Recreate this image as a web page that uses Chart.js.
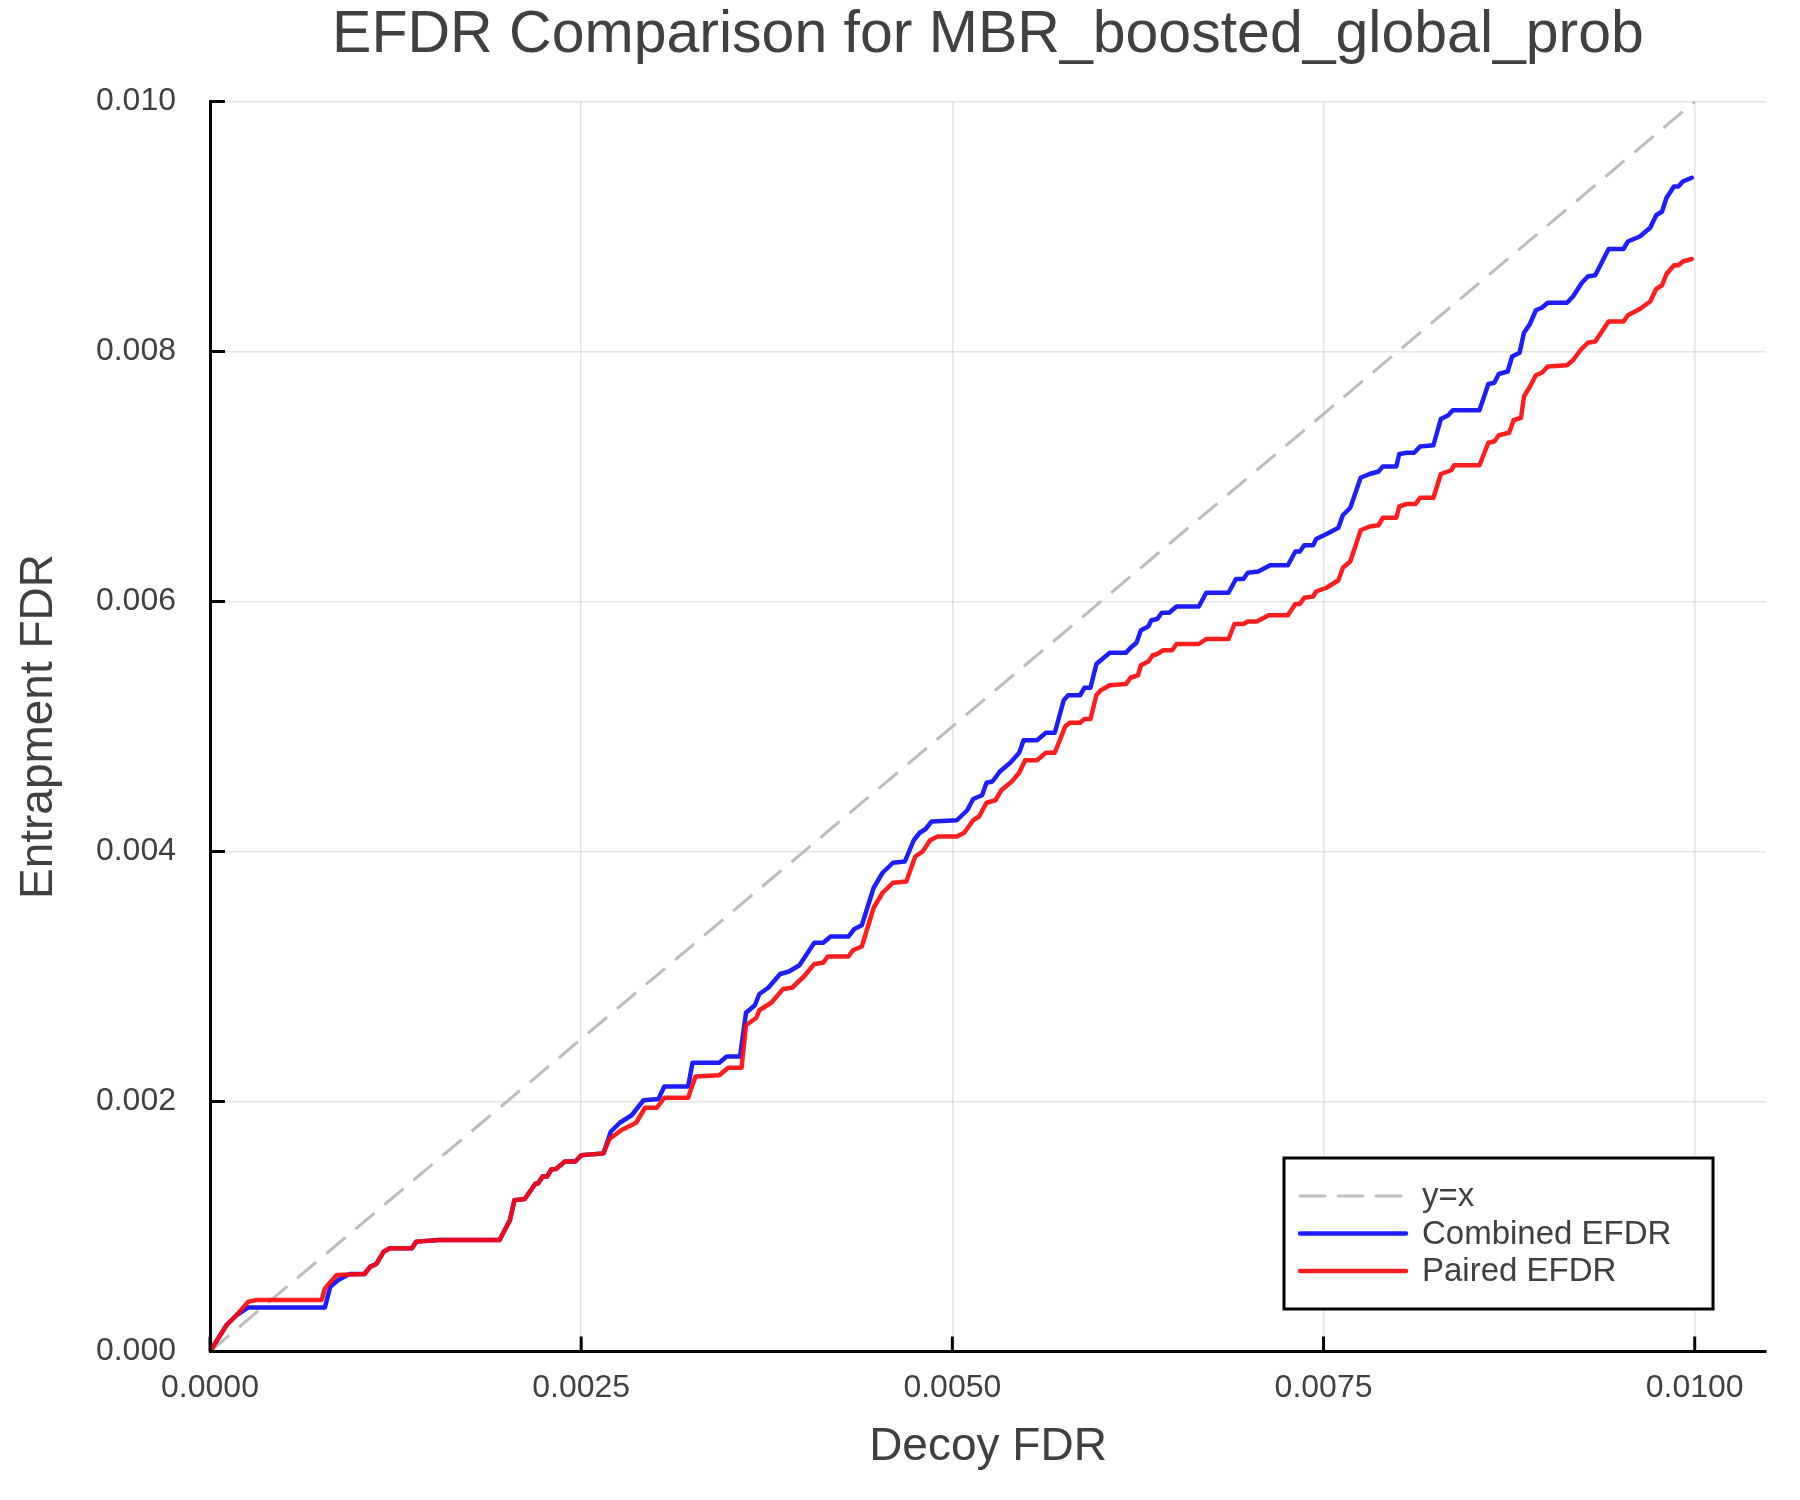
<!DOCTYPE html>
<html>
<head>
<meta charset="utf-8">
<script src="https://cdn.jsdelivr.net/npm/chart.js@4"></script>
<style>
  html, body { margin: 0; padding: 0; background: #ffffff; }
  #wrap { width: 1800px; height: 1500px; }
</style>
</head>
<body>
<div id="wrap"><canvas id="c" width="1800" height="1500"></canvas></div>
<script>
// ---------------- data ----------------
const chartTitle = "EFDR Comparison for MBR_boosted_global_prob";
const xAxisTitle = "Decoy FDR";
const yAxisTitle = "Entrapment FDR";

const xTicks = [0, 0.0025, 0.005, 0.0075, 0.01];
const xTickLabels = ["0.0000", "0.0025", "0.0050", "0.0075", "0.0100"];
const yTicks = [0, 0.002, 0.004, 0.006, 0.008, 0.01];
const yTickLabels = ["0.000", "0.002", "0.004", "0.006", "0.008", "0.010"];
const xMin = 0, xMax = 0.01048, yMin = 0, yMax = 0.01;

const refLabel = "y=x";
const refX = [0, 0.01];
const refY = [0, 0.01];

const combinedLabel = "Combined EFDR";
const combinedX = [0,0.000112,0.00018,0.000258,0.000774,0.00081,0.000864,0.00094,0.00104,0.00108,0.00112,0.00117,0.00121,0.00136,0.00139,0.00154,0.00195,0.00202,0.00205,0.00212,0.00219,0.00221,0.00224,0.00227,0.0023,0.00233,0.00239,0.00246,0.0025,0.00265,
0.0027,0.00276,0.00284,0.00292,0.00302,0.00306,0.00322,0.00325,0.00343,0.00348,0.00357,0.00361,0.00367,0.0037,0.00376,0.00384,0.0039,0.00397,0.00407,0.00413,0.00418,0.0043,0.00434,0.00439,0.00447,0.00453,0.0046,0.00468,0.00474,0.00478,0.00482,0.00486,0.00503,
0.0051,0.00514,0.0052,0.00523,0.00527,0.00532,0.00539,0.00545,0.00548,0.00557,0.00563,0.00569,0.00575,0.00578,0.00586,0.00589,0.00593,0.00597,0.006,0.00606,0.00617,0.0062,0.00624,0.00627,0.00632,0.00634,0.00638,0.00641,0.00646,0.00651,0.00666,0.00671,0.00686,0.00691,0.00696,0.00699,0.00706,0.00714,0.00726,
0.00731,0.00734,0.00737,0.00743,0.00745,0.00752,0.0076,0.00763,0.00768,0.00775,0.00781,0.00787,0.0079,0.00799,0.00801,0.00806,0.00811,0.00815,0.00824,0.00829,0.00834,0.00837,0.00855,0.00861,0.00865,0.00868,0.00874,0.00877,0.00882,0.00885,0.00889,0.00893,0.00897,0.00901,0.00914,0.00918,0.00924,0.00928,0.00933,0.00942,0.00952,0.00955,0.00963,0.0097,0.00974,0.00978,0.00981,0.00986,0.00989,0.00992,0.00998];
const combinedY = [0,0.000212,0.000292,0.000353,0.000353,0.000518,0.000572,0.00062,0.00062,0.000679,0.0007,0.000799,0.000826,0.000826,0.000879,0.000892,0.000892,0.00105,0.00121,0.00122,0.00134,0.001346,0.0014,0.0014,0.001458,0.00146,0.00152,0.00152,0.00157,0.001585,
0.00176,0.00183,0.00189,0.00201,0.00202,0.00212,0.00212,0.00231,0.00231,0.00236,0.00236,0.00271,0.00277,0.00286,0.00291,0.00302,0.00304,0.00309,0.00327,0.00327,0.00332,0.00332,0.00338,0.00341,0.00371,0.00383,0.00391,0.00392,0.00409,0.00415,0.00418,0.00424,0.00425,
0.00433,0.00442,0.00445,0.00455,0.00456,0.00464,0.00471,0.00479,0.00489,0.00489,0.00495,0.00495,0.00521,0.00525,0.00525,0.00531,0.00531,0.0055,0.00553,0.00559,0.00559,0.00563,0.00567,0.00577,0.0058,0.00585,0.00586,0.00591,0.00591,0.00596,0.00596,0.00607,0.00607,0.00618,0.00618,0.00623,0.00624,0.00629,0.00629,
0.0064,0.0064,0.00645,0.00645,0.0065,0.00654,0.00659,0.00669,0.00675,0.00699,0.00702,0.00704,0.00708,0.00708,0.00718,0.00719,0.00719,0.00724,0.00725,0.00746,0.00749,0.00753,0.00753,0.00774,0.00775,0.00782,0.00784,0.00796,0.00799,0.00815,0.00822,0.00833,0.00835,0.00839,0.00839,0.00844,0.00855,0.0086,0.00861,0.00882,0.00882,0.00888,0.00892,0.00899,0.00909,0.00912,0.00923,0.00932,0.00932,0.00936,0.00939];

const pairedLabel = "Paired EFDR";
const pairedX = [0,0.000112,0.00018,0.000258,0.000314,0.000752,0.000774,0.000853,0.00104,0.00108,0.00112,0.00117,0.00121,0.00136,0.00139,0.00154,0.00195,0.00202,0.00205,0.00212,0.00219,0.00221,0.00224,0.00227,0.0023,0.00233,0.00239,0.00246,0.0025,0.00265,
0.00269,0.00277,0.00287,0.00293,0.00301,0.00306,0.00322,0.00327,0.00343,0.00349,0.00358,0.00361,0.00368,0.0037,0.00378,0.00386,0.00392,0.004,0.00407,0.00413,0.00416,0.0043,0.00433,0.00439,0.00447,0.00453,0.0046,0.00469,0.00475,0.0048,0.00485,0.0049,0.00503,
0.00508,0.00514,0.00518,0.00523,0.00529,0.00533,0.0054,0.00545,0.00549,0.00557,0.00563,0.00569,0.00576,0.00579,0.00586,0.00589,0.00593,0.00597,0.006,0.00606,0.00617,0.0062,0.00625,0.00627,0.00632,0.00635,0.00638,0.00642,0.00648,0.00651,0.00666,0.00671,0.00686,0.0069,0.00696,0.00699,0.00705,0.00713,0.00726,
0.00731,0.00734,0.00737,0.00743,0.00745,0.00752,0.0076,0.00763,0.00768,0.00775,0.00781,0.00787,0.0079,0.00799,0.00801,0.00806,0.00812,0.00815,0.00824,0.00829,0.00836,0.00838,0.00855,0.00861,0.00865,0.00868,0.00875,0.00878,0.00883,0.00885,0.00889,0.00893,0.00897,0.00901,0.00914,0.00918,0.00923,0.00928,0.00933,0.00942,0.00952,0.00955,0.00963,0.0097,0.00974,0.00978,0.00981,0.00986,0.00989,0.00992,0.00998];
const pairedY = [0,0.000212,0.000292,0.000399,0.000412,0.000412,0.000505,0.000612,0.00062,0.000679,0.0007,0.000799,0.000826,0.000826,0.000879,0.000892,0.000892,0.00105,0.00121,0.00122,0.00134,0.001346,0.0014,0.0014,0.001458,0.00146,0.00152,0.00152,0.00157,0.001585,
0.0017,0.00177,0.00183,0.00195,0.00195,0.00203,0.00203,0.0022,0.00221,0.00227,0.00227,0.00261,0.00267,0.00273,0.00279,0.0029,0.00291,0.003,0.0031,0.00311,0.00316,0.00316,0.00321,0.00324,0.00355,0.00367,0.00375,0.00376,0.00396,0.004,0.00409,0.00412,0.00412,
0.00415,0.00425,0.00428,0.00439,0.00441,0.00449,0.00456,0.00463,0.00473,0.00473,0.00479,0.00479,0.005,0.00503,0.00503,0.00506,0.00506,0.00525,0.00529,0.00533,0.00534,0.00539,0.00541,0.00549,0.00552,0.00557,0.00558,0.00561,0.00561,0.00566,0.00566,0.0057,0.0057,0.00582,0.00582,0.00584,0.00584,0.00589,0.00589,
0.00598,0.00598,0.00603,0.00604,0.00608,0.00611,0.00617,0.00627,0.00632,0.00657,0.0066,0.00661,0.00667,0.00667,0.00676,0.00678,0.00678,0.00683,0.00683,0.00702,0.00705,0.00709,0.00709,0.00727,0.00728,0.00733,0.00735,0.00745,0.00747,0.00764,0.00772,0.00781,0.00783,0.00788,0.00789,0.00793,0.00801,0.00807,0.00808,0.00824,0.00824,0.00829,0.00834,0.0084,0.0085,0.00853,0.00862,0.00869,0.00869,0.00872,0.00874];

// ---------------- helpers ----------------
function toPoints(xs, ys) { return xs.map((x, i) => ({ x: x, y: ys[i] })); }

const FONT = '"Liberation Sans", Arial, Helvetica, sans-serif';
const TEXT = '#404040';

const inwardTicks = {
  id: 'inwardTicks',
  afterDatasetsDraw(chart) {
    const ctx = chart.ctx, a = chart.chartArea;
    const xs = chart.scales.x, ys = chart.scales.y;
    ctx.save();
    ctx.strokeStyle = '#000';
    ctx.lineWidth = 3;
    ctx.beginPath();
    xs.ticks.forEach(t => { const p = xs.getPixelForValue(t.value); ctx.moveTo(p, a.bottom); ctx.lineTo(p, a.bottom - 15); });
    ys.ticks.forEach(t => { const p = ys.getPixelForValue(t.value); ctx.moveTo(a.left, p); ctx.lineTo(a.left + 15, p); });
    ctx.stroke();
    ctx.restore();
  }
};

const boxLegend = {
  id: 'boxLegend',
  afterDraw(chart) {
    const ctx = chart.ctx, a = chart.chartArea;
    const w = 429, h = 151;
    const right = a.right - 53, bottom = a.bottom - 42.5;
    const left = right - w, top = bottom - h;
    ctx.save();
    ctx.fillStyle = '#fff';
    ctx.fillRect(left, top, w, h);
    ctx.strokeStyle = '#000';
    ctx.lineWidth = 3;
    ctx.strokeRect(left, top, w, h);
    const rows = [38, 75.5, 113];
    chart.data.datasets.forEach((ds, i) => {
      const y = top + rows[i];
      ctx.beginPath();
      ctx.strokeStyle = ds.borderColor;
      ctx.lineWidth = ds.borderWidth;
      ctx.setLineDash(ds.borderDash || []);
      ctx.lineCap = 'round';
      ctx.moveTo(left + 16, y);
      ctx.lineTo(left + 122, y);
      ctx.stroke();
      ctx.setLineDash([]);
      ctx.fillStyle = TEXT;
      ctx.font = '33px ' + FONT;
      ctx.textBaseline = 'middle';
      ctx.textAlign = 'left';
      ctx.fillText(ds.label, left + 138, y + 1);
    });
    ctx.restore();
  }
};

new Chart(document.getElementById('c'), {
  type: 'line',
  data: {
    datasets: [
      { label: refLabel, data: toPoints(refX, refY), borderColor: '#bdbdbd', borderWidth: 3, borderDash: [25, 13], pointRadius: 0, tension: 0, order: 2, fill: false },
      { label: combinedLabel, data: toPoints(combinedX, combinedY), borderColor: 'rgba(10,10,255,0.92)', borderWidth: 4.5, pointRadius: 0, tension: 0, order: 1, fill: false, borderJoinStyle: 'round', borderCapStyle: 'round' },
      { label: pairedLabel, data: toPoints(pairedX, pairedY), borderColor: 'rgba(255,10,10,0.92)', borderWidth: 4.5, pointRadius: 0, tension: 0, order: 0, fill: false, borderJoinStyle: 'round', borderCapStyle: 'round' }
    ]
  },
  options: {
    responsive: false,
    devicePixelRatio: 1,
    animation: false,
    layout: { padding: { left: 0, right: 34, top: 0, bottom: 0 } },
    plugins: {
      legend: { display: false },
      tooltip: { enabled: false },
      title: {
        display: true,
        text: chartTitle,
        color: TEXT,
        font: { family: FONT, size: 59, weight: 'normal', lineHeight: 1.1 },
        padding: { top: 3.5, bottom: 33.1 },
        fullSize: false
      }
    },
    scales: {
      x: {
        type: 'linear',
        min: xMin, max: xMax,
        afterBuildTicks: s => { s.ticks = xTicks.map(v => ({ value: v })); },
        afterFit: s => { s.height = 148.5; },
        ticks: {
          color: TEXT, font: { family: FONT, size: 32 }, padding: 17,
          maxRotation: 0, autoSkip: false,
          callback: (v, i) => xTickLabels[i]
        },
        grid: { color: 'rgba(0,0,0,0.1)', lineWidth: 1.5, drawTicks: false },
        border: { display: true, color: '#000', width: 3 },
        title: { display: true, text: xAxisTitle, color: TEXT, font: { family: FONT, size: 46 }, padding: { top: 0, bottom: 25 } }
      },
      y: {
        type: 'linear',
        min: yMin, max: yMax,
        afterBuildTicks: s => { s.ticks = yTicks.map(v => ({ value: v })); },
        afterFit: s => { s.width = 210; },
        ticks: {
          color: TEXT, font: { family: FONT, size: 32 }, padding: 34,
          autoSkip: false,
          callback: (v, i) => yTickLabels[i]
        },
        grid: { color: 'rgba(0,0,0,0.1)', lineWidth: 1.5, drawTicks: false },
        border: { display: true, color: '#000', width: 3 },
        title: { display: true, text: yAxisTitle, color: TEXT, font: { family: FONT, size: 46 }, padding: { top: 12, bottom: 0 } }
      }
    }
  },
  plugins: [inwardTicks, boxLegend]
});
</script>
</body>
</html>
